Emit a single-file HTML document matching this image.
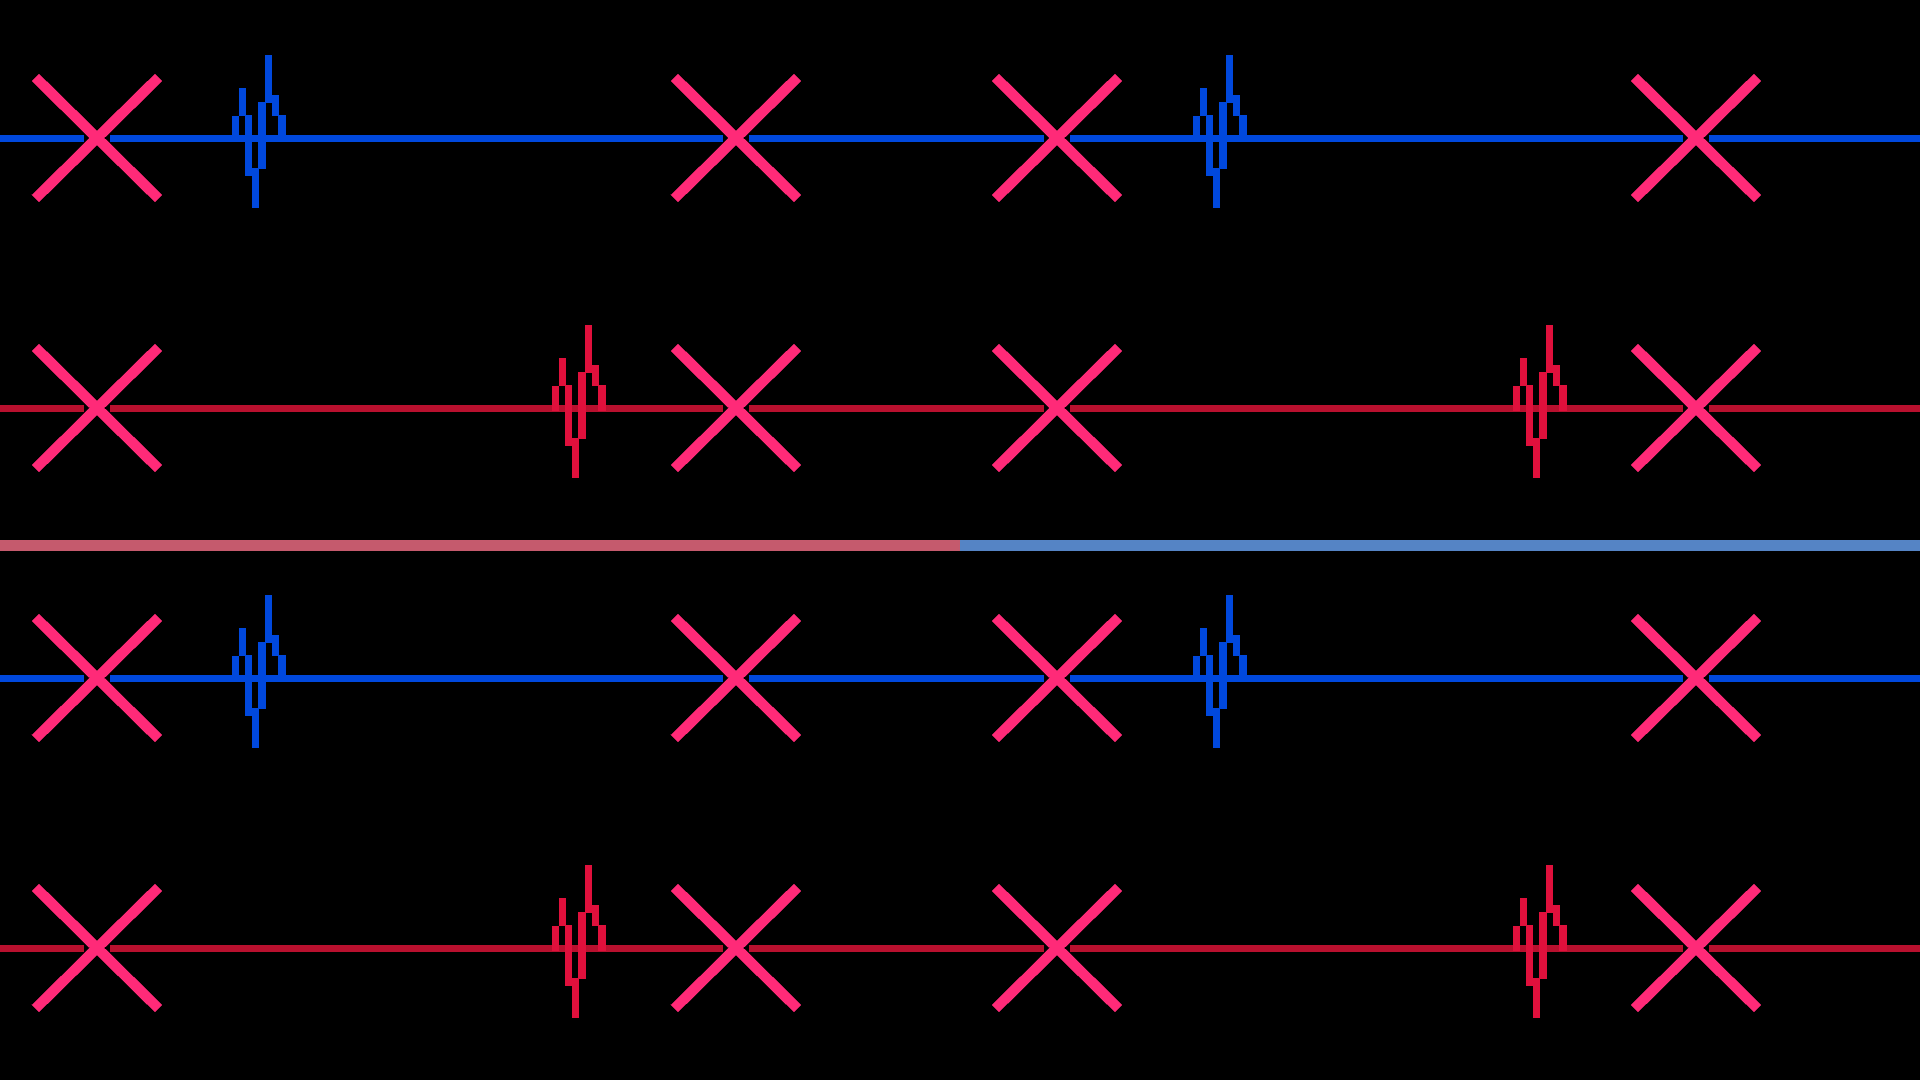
<!DOCTYPE html>
<html><head><meta charset="utf-8"><style>
html,body{margin:0;padding:0;background:#000;width:1920px;height:1080px;overflow:hidden}
svg{display:block}
</style></head><body>
<svg width="1920" height="1080" viewBox="0 0 1920 1080" xmlns="http://www.w3.org/2000/svg" shape-rendering="crispEdges">
<defs>
<g id="spike">
<rect x="0" y="-22" width="7" height="25"/>
<rect x="7" y="-50" width="7" height="28"/>
<rect x="13" y="-23" width="7" height="61"/>
<rect x="20" y="30" width="7" height="40"/>
<rect x="26" y="-36" width="8" height="67"/>
<rect x="33" y="-83" width="7" height="48"/>
<rect x="40" y="-43" width="7" height="21"/>
<rect x="46" y="-23" width="8" height="26"/>
</g>
<g id="x">
<rect x="-13" y="-4" width="26" height="8" fill="#000"/>
<line x1="-58" y1="-57" x2="58" y2="57" stroke="#ff2a78" stroke-width="10.5" stroke-linecap="square"/>
<line x1="58" y1="-57" x2="-58" y2="57" stroke="#ff2a78" stroke-width="10.5" stroke-linecap="square"/>
</g>
</defs>
<g fill="#0048dd">
<rect x="0" y="135" width="1920" height="7"/>
<use href="#spike" x="232" y="138"/>
<use href="#spike" x="1193" y="138"/>
</g>
<rect x="0" y="405" width="1920" height="7" fill="#b8102e"/>
<g fill="#e0103c"><use href="#spike" x="552" y="408"/><use href="#spike" x="1513" y="408"/></g>
<rect x="0" y="540" width="960" height="11" fill="#c55a6d"/>
<rect x="960" y="540" width="960" height="11" fill="#5584c5"/>
<g fill="#0048dd">
<rect x="0" y="675" width="1920" height="7"/>
<use href="#spike" x="232" y="678"/>
<use href="#spike" x="1193" y="678"/>
</g>
<rect x="0" y="945" width="1920" height="7" fill="#b8102e"/>
<g fill="#e0103c"><use href="#spike" x="552" y="948"/><use href="#spike" x="1513" y="948"/></g>
<g>
<use href="#x" x="97" y="138"/><use href="#x" x="736" y="138"/><use href="#x" x="1057" y="138"/><use href="#x" x="1696" y="138"/>
<use href="#x" x="97" y="408"/><use href="#x" x="736" y="408"/><use href="#x" x="1057" y="408"/><use href="#x" x="1696" y="408"/>
<use href="#x" x="97" y="678"/><use href="#x" x="736" y="678"/><use href="#x" x="1057" y="678"/><use href="#x" x="1696" y="678"/>
<use href="#x" x="97" y="948"/><use href="#x" x="736" y="948"/><use href="#x" x="1057" y="948"/><use href="#x" x="1696" y="948"/>
</g>
</svg>
</body></html>
